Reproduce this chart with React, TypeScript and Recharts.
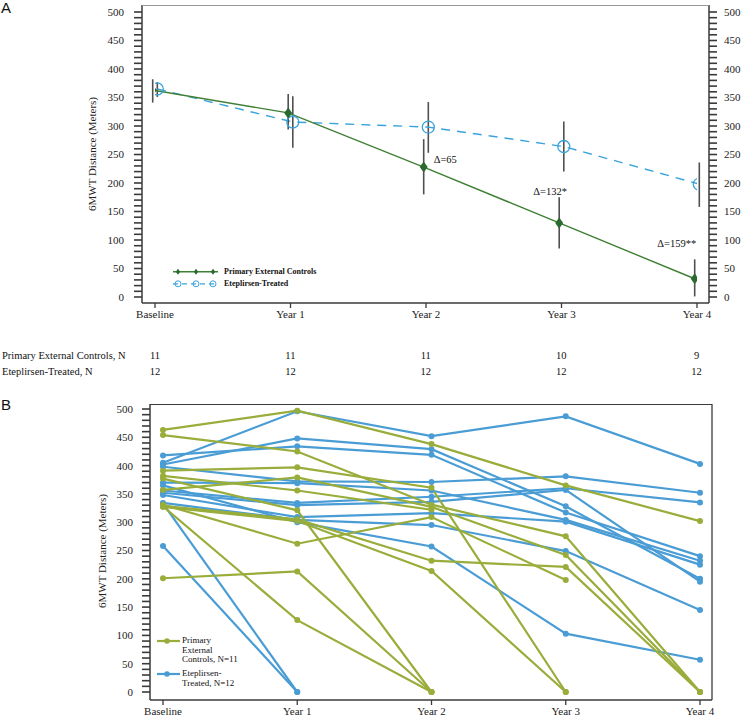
import React from "react";
import { LineChart, Line, XAxis, YAxis, ErrorBar, LabelList } from "recharts";

const CATS = ["Baseline", "Year 1", "Year 2", "Year 3", "Year 4"];

// Panel A: group means with 95% CI
const controlMean = [363, 323, 228, 130, 32];
const controlLow = [341, 294, 180, 85, 1];
const controlHigh = [382, 356, 277, 175, 66];
const treatedMean = [365, 307, 298, 264, 198];
const treatedLow = [351, 262, 253, 220, 158];
const treatedHigh = [377, 352, 342, 308, 236];
const deltaLabels = ["", "", "Δ=65", "Δ=132*", "Δ=159**"];

// numbers at risk
const controlN = [11, 11, 11, 10, 9];
const treatedN = [12, 12, 12, 12, 12];

// Panel B: individual patients (null = no visit)
const controls: (number | null)[][] = [
  [463, 497, 438, 365, 302],
  [454, 425, 331, 275, 0],
  [391, 397, 361, 0, null],
  [357, 379, 327, 242, 0],
  [382, 356, 322, null, null],
  [377, 321, 0, null, null],
  [329, 305, 232, 221, 0],
  [327, 302, 214, 0, null],
  [331, 262, 309, 198, null],
  [201, 213, 0, null, null],
  [328, 127, 0, null, null],
];
const treated: (number | null)[][] = [
  [405, 496, 452, 487, 403],
  [402, 448, 429, 328, 200],
  [418, 434, 419, 317, 240],
  [398, 372, 371, 381, 352],
  [370, 369, 356, 304, 232],
  [356, 334, 345, 360, 335],
  [352, 330, 336, 357, 195],
  [348, 309, 316, 301, 225],
  [334, 304, 295, 249, 145],
  [365, 300, 257, 103, 57],
  [258, 0, null, null, null],
  [333, 0, null, null, null],
];

const yTicks = Array.from({ length: 51 }, (_, i) => i * 10);
const FONT = "'Liberation Serif', 'Times New Roman', serif";
const GREEN_A = "#3f7f34";
const DIAMOND = "#2b6a2e";
const BLUE_A = "#3aa3dc";
const ERR = "#505050";
const AXIS = "#3a3a3a";
const GREEN_B = "#99ad3b";
const BLUE_B = "#4a9cd5";
const DODGE = 0.017;

// x positions of panel A categories (for the N table)
const A_X0 = 155;
const A_STEP = 135.4;

const deltaOffsets: Record<number, { dx: number; dy: number; anchor: string }> = {
  2: { dx: 10, dy: -4, anchor: "start" },
  3: { dx: -9, dy: -28, anchor: "middle" },
  4: { dx: -18, dy: -32, anchor: "middle" },
};

const rowsA = (mean: number[], low: number[], high: number[], shift: number) =>
  mean.map((m, i) => ({ x: i + shift, y: m, err: [m - low[i], high[i] - m], label: deltaLabels[i] }));

const controlRows = rowsA(controlMean, controlLow, controlHigh, -DODGE);
const treatedRows = rowsA(treatedMean, treatedLow, treatedHigh, DODGE);

const rowsB = CATS.map((cat, i) => {
  const row: any = { cat };
  controls.forEach((p, k) => (row[`g${k}`] = p[i]));
  treated.forEach((p, k) => (row[`b${k}`] = p[i]));
  return row;
});

const tickStyle = { fontSize: 11, fill: "#222", fontFamily: FONT };
const major = (v: number) => (v % 50 === 0 ? String(v) : "");

const Diamond = (p: any) => {
  const { cx, cy, index } = p;
  if (cx == null || cy == null) return <g key={index} />;
  return (
    <polygon
      key={index}
      points={`${cx},${cy - 5.5} ${cx + 4},${cy} ${cx},${cy + 5.5} ${cx - 4},${cy}`}
      fill={DIAMOND}
    />
  );
};

const OpenCircle = (p: any) => {
  const { cx, cy, index } = p;
  if (cx == null || cy == null) return <g key={index} />;
  return <circle key={index} cx={cx} cy={cy} r={6} fill="none" stroke={BLUE_A} strokeWidth={1.3} />;
};

const renderDelta = (p: any) => {
  const { x, y, value, index } = p;
  const o = deltaOffsets[index];
  if (!value || !o) return null;
  return (
    <text x={x + o.dx} y={y + o.dy} textAnchor={o.anchor} fontSize={10.5} fontFamily={FONT} fill="#111">
      {value}
    </text>
  );
};

const rotated = (x: number, y: number): React.CSSProperties => ({
  position: "absolute",
  left: x,
  top: y,
  transform: "translate(-50%, -50%) rotate(-90deg)",
  whiteSpace: "nowrap",
  fontSize: 11,
  color: "#222",
});

const topLine = (left: number, top: number, width: number, color: string): React.CSSProperties => ({
  position: "absolute",
  left,
  top,
  width,
  height: 0,
  borderTop: `1.3px solid ${color}`,
});

function PanelA() {
  return (
    <div style={{ position: "absolute", left: 0, top: 0 }}>
      <LineChart width={742} height={325} margin={{ top: 5, right: 0, bottom: 0, left: 82 }}>
        <XAxis
          dataKey="x"
          type="number"
          domain={[0, 4]}
          allowDataOverflow
          ticks={[0, 1, 2, 3, 4]}
          interval={0}
          tickFormatter={(i: number) => CATS[i]}
          padding={{ left: 13, right: 12 }}
          height={22}
          tickSize={5}
          tickMargin={2}
          tick={tickStyle}
          tickLine={{ stroke: AXIS, strokeWidth: 1.3 }}
          axisLine={{ stroke: AXIS, strokeWidth: 1.5 }}
        />
        <YAxis
          domain={[0, 500]}
          ticks={yTicks}
          interval={0}
          padding={{ top: 7, bottom: 6 }}
          width={60}
          tickSize={8}
          tickMargin={10}
          tickFormatter={major}
          tick={tickStyle}
          tickLine={{ stroke: AXIS, strokeWidth: 1.6 }}
          axisLine={{ stroke: AXIS, strokeWidth: 1.5 }}
        />
        <YAxis
          yAxisId="r"
          orientation="right"
          domain={[0, 500]}
          ticks={yTicks}
          interval={0}
          padding={{ top: 7, bottom: 6 }}
          width={33}
          tickSize={8}
          tickMargin={7}
          tickFormatter={major}
          tick={tickStyle}
          tickLine={{ stroke: AXIS, strokeWidth: 1.6 }}
          axisLine={{ stroke: AXIS, strokeWidth: 1.5 }}
        />
        <Line
          yAxisId="r"
          data={treatedRows}
          dataKey="y"
          stroke={BLUE_A}
          strokeWidth={1.4}
          strokeDasharray="9 7"
          dot={OpenCircle}
          activeDot={false}
          isAnimationActive={false}
        >
          <ErrorBar dataKey="err" direction="y" width={0} stroke={ERR} strokeWidth={1.6} />
        </Line>
        <Line
          data={controlRows}
          dataKey="y"
          stroke={GREEN_A}
          strokeWidth={1.4}
          dot={Diamond}
          activeDot={false}
          isAnimationActive={false}
        >
          <ErrorBar dataKey="err" direction="y" width={0} stroke={ERR} strokeWidth={1.6} />
          <LabelList dataKey="label" content={renderDelta} />
        </Line>
      </LineChart>
      <div style={topLine(142, 4.5, 567, "#999")} />
      <div style={rotated(92, 154)}>6MWT Distance (Meters)</div>
      <div style={{ position: "absolute", left: 173, top: 266, fontSize: 8, fontWeight: "bold", lineHeight: "11.6px" }}>
        <div style={{ display: "flex", alignItems: "center" }}>
          <svg width={46} height={11.6}>
            <line x1={0} x2={45} y1={5.8} y2={5.8} stroke={GREEN_A} strokeWidth={1.4} />
            {[5, 23, 40].map((cx) => (
              <polygon key={cx} points={`${cx},2.8 ${cx + 2.2},5.8 ${cx},8.8 ${cx - 2.2},5.8`} fill={DIAMOND} />
            ))}
          </svg>
          <span style={{ marginLeft: 5 }}>Primary External Controls</span>
        </div>
        <div style={{ display: "flex", alignItems: "center" }}>
          <svg width={46} height={11.6}>
            <line x1={0} x2={45} y1={5.8} y2={5.8} stroke={BLUE_A} strokeWidth={1.2} strokeDasharray="5 4" />
            {[5, 23, 40].map((cx) => (
              <circle key={cx} cx={cx} cy={5.8} r={3} fill="none" stroke={BLUE_A} strokeWidth={1} />
            ))}
          </svg>
          <span style={{ marginLeft: 5 }}>Eteplirsen-Treated</span>
        </div>
      </div>
    </div>
  );
}

function NTable() {
  const rows: [string, number[], number][] = [
    ["Primary External Controls, N", controlN, 355],
    ["Eteplirsen-Treated, N", treatedN, 371],
  ];
  return (
    <>
      {rows.map(([label, vals, y]) => (
        <React.Fragment key={label}>
          <div style={{ position: "absolute", left: 2, top: y, transform: "translateY(-50%)", fontSize: 10.5, whiteSpace: "nowrap" }}>
            {label}
          </div>
          {vals.map((v, i) => (
            <div
              key={i}
              style={{ position: "absolute", left: A_X0 + i * A_STEP, top: y, transform: "translate(-50%, -50%)", fontSize: 10.5 }}
            >
              {v}
            </div>
          ))}
        </React.Fragment>
      ))}
    </>
  );
}

function PanelB() {
  return (
    <div style={{ position: "absolute", left: 0, top: 395 }}>
      <LineChart width={742} height={322} data={rowsB} margin={{ top: 9, right: 0, bottom: 0, left: 90 }}>
        <XAxis
          dataKey="cat"
          interval={0}
          padding={{ left: 13, right: 12 }}
          height={17}
          tickSize={5}
          tickMargin={2}
          tick={tickStyle}
          tickLine={{ stroke: AXIS, strokeWidth: 1.3 }}
          axisLine={{ stroke: AXIS, strokeWidth: 1.5 }}
        />
        <YAxis
          domain={[0, 500]}
          ticks={yTicks}
          interval={0}
          padding={{ top: 5, bottom: 8 }}
          width={60}
          tickSize={8}
          tickMargin={9}
          tickFormatter={major}
          tick={tickStyle}
          tickLine={{ stroke: AXIS, strokeWidth: 1.6 }}
          axisLine={{ stroke: AXIS, strokeWidth: 1.5 }}
        />
        <YAxis
          yAxisId="r"
          orientation="right"
          domain={[0, 500]}
          width={30}
          tick={false}
          tickLine={false}
          axisLine={{ stroke: AXIS, strokeWidth: 1.3 }}
        />
        {treated.map((_, k) => (
          <Line
            key={`b${k}`}
            dataKey={`b${k}`}
            stroke={BLUE_B}
            strokeWidth={2.2}
            dot={{ r: 3, fill: BLUE_B, stroke: "none" }}
            activeDot={false}
            isAnimationActive={false}
          />
        ))}
        {controls.map((_, k) => (
          <Line
            key={`g${k}`}
            dataKey={`g${k}`}
            stroke={GREEN_B}
            strokeWidth={2.2}
            dot={{ r: 3, fill: GREEN_B, stroke: "none" }}
            activeDot={false}
            isAnimationActive={false}
          />
        ))}
      </LineChart>
      <div style={topLine(150, 8.5, 562, AXIS)} />
      <div style={rotated(102, 156)}>6MWT Distance (Meters)</div>
      <div style={{ position: "absolute", left: 157, top: 241, fontSize: 9, lineHeight: "9.7px" }}>
        <div style={{ display: "flex", alignItems: "flex-start" }}>
          <svg width={24} height={10}>
            <line x1={0} x2={23} y1={5} y2={5} stroke={GREEN_B} strokeWidth={2.2} />
            <circle cx={10} cy={5} r={2.8} fill={GREEN_B} />
          </svg>
          <span style={{ marginLeft: 1 }}>
            Primary
            <br />
            External
            <br />
            Controls, N=11
          </span>
        </div>
        <div style={{ display: "flex", alignItems: "flex-start", marginTop: 4 }}>
          <svg width={24} height={10}>
            <line x1={0} x2={23} y1={5} y2={5} stroke={BLUE_B} strokeWidth={2.2} />
            <circle cx={10} cy={5} r={2.8} fill={BLUE_B} />
          </svg>
          <span style={{ marginLeft: 1 }}>
            Eteplirsen-
            <br />
            Treated, N=12
          </span>
        </div>
      </div>
    </div>
  );
}

const panelLetter: React.CSSProperties = {
  position: "absolute",
  left: 1,
  fontFamily: "'Liberation Sans', Arial, sans-serif",
  fontSize: 15,
  lineHeight: "15px",
};

export default function App() {
  return (
    <div
      style={{
        position: "absolute",
        left: 0,
        top: 0,
        width: 742,
        height: 717,
        overflow: "hidden",
        background: "#fff",
        fontFamily: FONT,
        color: "#111",
      }}
    >
      <div style={{ ...panelLetter, top: 0 }}>A</div>
      <PanelA />
      <NTable />
      <div style={{ ...panelLetter, top: 397 }}>B</div>
      <PanelB />
    </div>
  );
}
